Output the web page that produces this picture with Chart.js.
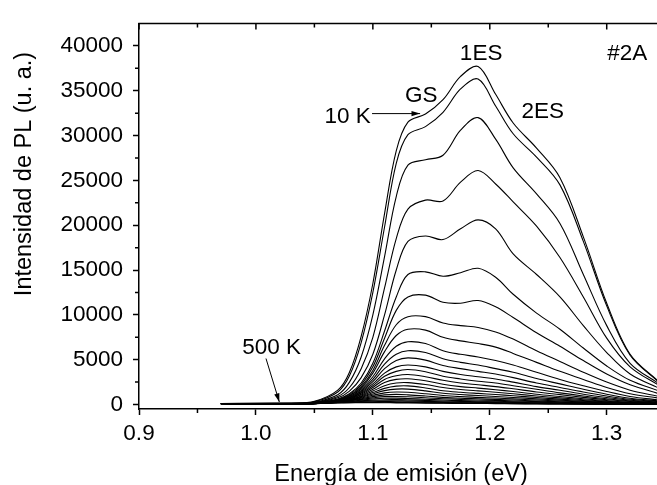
<!DOCTYPE html>
<html>
<head>
<meta charset="utf-8">
<script src="https://cdn.jsdelivr.net/npm/chart.js@4.4.1/dist/chart.umd.min.js"></script>
<style>
  html, body { margin: 0; padding: 0; background: #fff; }
  #wrap { width: 657px; height: 485px; position: relative; }
</style>
</head>
<body>
<div id="wrap"><canvas id="pl"></canvas></div>
<script>
// energía (eV), común a todos los espectros
var energia = [0.97, 1.00, 1.03, 1.05, 1.07, 1.08, 1.09, 1.10, 1.11, 1.12, 1.13, 1.145, 1.16, 1.175, 1.19, 1.205, 1.22, 1.24, 1.26, 1.28, 1.30, 1.32, 1.345];

// espectros de PL, de 10 K (arriba) a 500 K (abajo)
var curva01 = [null, 60, 120, 350, 1600, 3600, 7600, 13500, 21300, 28300, 31500, 32400, 34000, 36600, 37700, 34600, 31400, 28600, 25300, 18700, 11300, 5600, 2500];
var curva02 = [null, 50, 100, 300, 1400, 3200, 6900, 12500, 19800, 26900, 30100, 31000, 32600, 35200, 36300, 33300, 30200, 27600, 24500, 18200, 11000, 5500, 2450];
var curva03 = [null, 40, 90, 260, 1100, 2500, 5300, 10000, 16500, 23200, 26700, 27300, 27800, 30600, 32000, 29600, 26400, 23500, 20200, 14500, 8800, 4600, 2300];
var curva04 = [null, 40, 80, 220, 900, 1900, 4000, 7500, 13000, 18500, 21800, 22800, 22700, 24800, 26100, 24600, 22600, 19900, 16400, 12000, 7400, 4200, 2100];
var curva05 = [null, 35, 70, 190, 750, 1500, 3000, 5600, 10000, 15000, 18200, 18800, 18400, 19600, 20600, 19600, 16800, 14500, 12000, 8800, 5800, 3400, 1800];
var curva06 = [null, 30, 60, 170, 620, 1200, 2400, 4600, 8200, 12000, 14500, 14800, 14300, 14700, 15200, 14200, 12300, 10200, 8400, 6300, 4300, 2700, 1500];
var curva07 = [null, 30, 60, 160, 560, 1100, 2200, 4200, 7400, 10500, 12000, 12200, 11400, 11300, 11600, 10900, 9700, 8000, 6500, 4900, 3400, 2200, 1200];
var curva08 = [null, 25, 55, 150, 520, 1000, 2000, 3800, 6600, 8900, 9800, 9800, 9100, 8800, 8600, 8100, 7300, 6000, 4800, 3600, 2500, 1600, 900];
var curva09 = [null, 25, 50, 140, 480, 950, 1850, 3500, 5900, 7700, 8400, 8300, 7500, 7100, 6800, 6400, 5700, 4700, 3700, 2800, 1900, 1200, 700];
var curva10 = [null, 25, 50, 130, 450, 880, 1700, 3100, 5100, 6500, 7000, 6800, 6000, 5600, 5300, 4900, 4400, 3600, 2800, 2100, 1450, 900, 500];
var curva11 = [null, 25, 50, 125, 420, 820, 1550, 2800, 4500, 5600, 6000, 5800, 5100, 4700, 4400, 4000, 3600, 2900, 2300, 1700, 1150, 700, 400];
var curva12 = [null, 20, 45, 120, 400, 770, 1450, 2550, 4000, 4900, 5200, 4950, 4350, 4000, 3700, 3400, 3000, 2400, 1900, 1400, 950, 580, 330];
var curva13 = [null, 20, 45, 115, 380, 720, 1350, 2300, 3500, 4200, 4400, 4200, 3700, 3350, 3100, 2850, 2500, 2000, 1600, 1150, 780, 480, 270];
var curva14 = [null, 20, 45, 110, 360, 680, 1250, 2100, 3150, 3700, 3900, 3650, 3150, 2850, 2600, 2400, 2100, 1700, 1300, 950, 650, 400, 220];
var curva15 = [80, 20, 40, 105, 340, 640, 1150, 1900, 2800, 3200, 3350, 3100, 2700, 2400, 2200, 2000, 1750, 1400, 1100, 800, 540, 330, 180];
var curva16 = [80, 20, 40, 100, 320, 600, 1050, 1700, 2450, 2800, 2870, 2650, 2260, 2000, 1830, 1650, 1450, 1150, 900, 650, 440, 270, 150];
var curva17 = [85, 20, 40, 95, 300, 560, 960, 1500, 2100, 2400, 2440, 2230, 1900, 1680, 1520, 1370, 1200, 950, 740, 540, 360, 220, 120];
var curva18 = [85, 20, 40, 90, 280, 520, 880, 1330, 1800, 2050, 2080, 1850, 1540, 1370, 1240, 1120, 980, 780, 600, 440, 290, 180, 100];
var curva19 = [90, 25, 40, 90, 270, 480, 800, 1180, 1550, 1720, 1720, 1520, 1250, 1110, 1000, 900, 790, 630, 490, 360, 240, 150, 80];
var curva20 = [90, 30, 45, 90, 260, 450, 720, 1030, 1300, 1400, 1360, 1200, 1000, 880, 800, 720, 630, 500, 390, 290, 190, 120, 70];
var curva21 = [95, 40, 55, 100, 260, 420, 650, 880, 1080, 1130, 1080, 950, 800, 700, 640, 570, 500, 400, 310, 230, 150, 100, 60];
var curva22 = [95, 50, 70, 110, 250, 390, 570, 740, 880, 900, 860, 760, 640, 560, 510, 460, 400, 320, 250, 180, 120, 80, 50];
var curva23 = [100, 65, 85, 120, 240, 350, 490, 610, 700, 710, 670, 590, 500, 440, 400, 360, 310, 250, 190, 140, 95, 60, 40];
var curva24 = [100, 80, 100, 130, 220, 310, 410, 490, 540, 545, 520, 460, 390, 340, 310, 280, 240, 190, 150, 110, 75, 50, 35];
var curva25 = [105, 95, 115, 140, 210, 270, 340, 390, 420, 420, 400, 350, 300, 265, 240, 215, 185, 150, 115, 85, 60, 40, 30];
var curva26 = [110, 110, 130, 150, 200, 235, 280, 310, 320, 315, 300, 265, 230, 200, 180, 160, 140, 110, 85, 65, 45, 30, 25];
var curva27 = [115, 125, 145, 160, 190, 210, 225, 240, 245, 240, 225, 200, 175, 155, 140, 125, 105, 85, 65, 50, 35, 25, 20];
var curva28 = [120, 140, 160, 175, 190, 195, 200, 200, 195, 185, 175, 160, 140, 125, 115, 100, 85, 70, 55, 45, 30, 20, 15];

var curvas = [curva01, curva02, curva03, curva04, curva05, curva06, curva07, curva08, curva09, curva10,
              curva11, curva12, curva13, curva14, curva15, curva16, curva17, curva18, curva19, curva20,
              curva21, curva22, curva23, curva24, curva25, curva26, curva27, curva28];

// marcas de los ejes
var xTicks = [0.9, 1.0, 1.1, 1.2, 1.3];
var xMinor = [0.95, 1.05, 1.15, 1.25];
var yTicks = [0, 5000, 10000, 15000, 20000, 25000, 30000, 35000, 40000];
var yMinor = [2500, 7500, 12500, 17500, 22500, 27500, 32500, 37500];

var FONT = "'Liberation Sans', Arial, sans-serif";

var datasets = curvas.map(function (c) {
    return {
        data: energia.map(function (e, i) { return { x: e, y: c[i] }; }),
        borderColor: '#000',
        borderWidth: 1.1,
        pointRadius: 0,
        fill: false,
        tension: 0.35
    };
});

function arrow(ctx, x1, y1, x2, y2) {
    ctx.beginPath();
    ctx.moveTo(x1, y1);
    ctx.lineTo(x2, y2);
    ctx.stroke();
    var a = Math.atan2(y2 - y1, x2 - x1);
    ctx.beginPath();
    ctx.moveTo(x2, y2);
    ctx.lineTo(x2 - 9 * Math.cos(a - 0.3), y2 - 9 * Math.sin(a - 0.3));
    ctx.lineTo(x2 - 9 * Math.cos(a + 0.3), y2 - 9 * Math.sin(a + 0.3));
    ctx.closePath();
    ctx.fill();
}

var extras = {
    id: 'extras',
    afterDraw: function (chart) {
        var ctx = chart.ctx, a = chart.chartArea;
        var x = chart.scales.x, y = chart.scales.y;
        ctx.save();
        ctx.strokeStyle = '#000';
        ctx.fillStyle = '#000';
        ctx.lineWidth = 1.5;

        // eje superior
        ctx.beginPath();
        ctx.moveTo(a.left - 0.75, a.top);
        ctx.lineTo(a.right, a.top);
        ctx.stroke();

        ctx.beginPath();
        xTicks.forEach(function (v) {
            var px = x.getPixelForValue(v);
            ctx.moveTo(px, a.top); ctx.lineTo(px, a.top + 6);
        });
        xMinor.forEach(function (v) {
            var px = x.getPixelForValue(v);
            ctx.moveTo(px, a.top); ctx.lineTo(px, a.top + 4);
            ctx.moveTo(px, a.bottom); ctx.lineTo(px, a.bottom + 4);
        });
        yMinor.forEach(function (v) {
            var py = y.getPixelForValue(v);
            ctx.moveTo(a.left, py); ctx.lineTo(a.left - 4, py);
        });
        ctx.stroke();

        // títulos de ejes
        ctx.font = '23.5px ' + FONT;
        ctx.textAlign = 'center';
        ctx.textBaseline = 'alphabetic';
        ctx.fillText('Energía de emisión (eV)', 401, 481);
        ctx.save();
        ctx.translate(31, 174);
        ctx.rotate(-Math.PI / 2);
        ctx.fillText('Intensidad de PL (u. a.)', 0, 0);
        ctx.restore();

        // etiquetas
        ctx.font = '22.5px ' + FONT;
        ctx.textBaseline = 'middle';
        ctx.fillText('#2A', x.getPixelForValue(1.3175), y.getPixelForValue(39100));
        ctx.fillText('1ES', x.getPixelForValue(1.1926), y.getPixelForValue(39100));
        ctx.fillText('GS', x.getPixelForValue(1.1413), y.getPixelForValue(34400));
        ctx.fillText('2ES', x.getPixelForValue(1.2452), y.getPixelForValue(32600));
        ctx.fillText('10 K', x.getPixelForValue(1.0784), y.getPixelForValue(32100));
        ctx.fillText('500 K', x.getPixelForValue(1.0135), y.getPixelForValue(6300));

        ctx.lineWidth = 1;
        arrow(ctx, x.getPixelForValue(1.0993), y.getPixelForValue(32450),
                   x.getPixelForValue(1.1404), y.getPixelForValue(32450));
        arrow(ctx, x.getPixelForValue(1.0086), y.getPixelForValue(5130),
                   x.getPixelForValue(1.0200), y.getPixelForValue(280));
        ctx.restore();
    }
};

var ctx = document.getElementById('pl');
var grafico = new Chart(ctx, {
    type: 'line',
    data: { datasets: datasets },
    options: {
        responsive: true,
        maintainAspectRatio: false,
        animation: false,
        events: [],
        layout: { padding: { top: 10, right: 0, left: 0, bottom: 0 } },
        plugins: { legend: { display: false }, tooltip: { enabled: false } },
        scales: {
            x: {
                type: 'linear',
                min: 0.9,
                max: 1.343,
                afterBuildTicks: function (s) { s.ticks = xTicks.map(function (v) { return { value: v }; }); },
                afterFit: function (s) { s.height = 76; },
                ticks: {
                    color: '#000',
                    padding: 5,
                    maxRotation: 0,
                    font: { family: FONT, size: 22.5 },
                    callback: function (v) { return v.toFixed(1); }
                },
                grid: { drawOnChartArea: false, drawTicks: true, tickLength: 6, tickWidth: 1.5, tickColor: '#000' },
                border: { color: '#000', width: 1.5 }
            },
            y: {
                type: 'linear',
                min: -500,
                max: 42500,
                afterBuildTicks: function (s) { s.ticks = yTicks.map(function (v) { return { value: v }; }); },
                afterFit: function (s) { s.width = 139; },
                ticks: {
                    color: '#000',
                    padding: 10,
                    font: { family: FONT, size: 22.5 },
                    callback: function (v) { return String(v); }
                },
                grid: { drawOnChartArea: false, drawTicks: true, tickLength: 6, tickWidth: 1.5, tickColor: '#000' },
                border: { color: '#000', width: 1.5 }
            }
        }
    },
    plugins: [extras]
});
</script>
</body>
</html>
